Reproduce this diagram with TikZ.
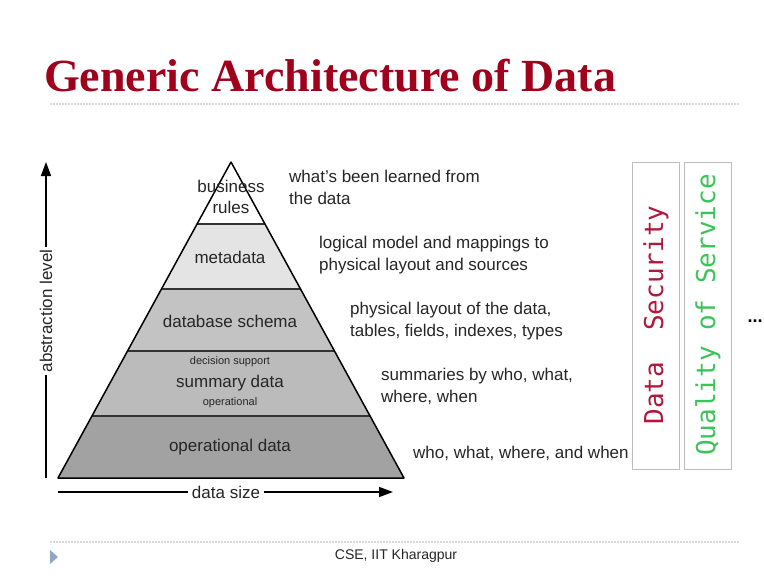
\documentclass[tikz,border=0pt]{standalone}
\usepackage{fontspec}
\setmainfont{Liberation Sans}
\newfontfamily\titlefont{Liberation Serif}
\newfontfamily\monofont{DejaVu Sans Mono}
\usetikzlibrary{calc,arrows.meta}
\definecolor{titlered}{HTML}{A0001C}
\definecolor{secred}{HTML}{B0183C}
\definecolor{qosgreen}{HTML}{3CC35A}
\definecolor{txtgray}{HTML}{262626}
\definecolor{lay1}{HTML}{FFFFFF}
\definecolor{lay2}{HTML}{E4E4E4}
\definecolor{lay3}{HTML}{C3C3C3}
\definecolor{lay4}{HTML}{BBBBBB}
\definecolor{lay5}{HTML}{A2A2A2}
\definecolor{boxgray}{HTML}{BDBDBD}
\definecolor{navblue}{HTML}{8FA6C4}
\tikzset{
  lbl/.style={text=txtgray,font=\fontsize{17}{19}\selectfont,inner sep=0pt},
  smalllbl/.style={text=txtgray,font=\fontsize{11}{13}\selectfont,inner sep=0pt},
  desc/.style={text=txtgray,font=\fontsize{17}{21.5}\selectfont,align=left,anchor=north west,inner sep=0pt},
  sep/.style={draw=black!80,line width=2.2pt},
  axis/.style={line width=1.4pt,-{Triangle[width=10pt,length=14pt]}},
  sidebox/.style={draw=boxgray,line width=0.9pt},
  sidetxt/.style={font=\monofont\fontsize{26}{28}\selectfont,rotate=90,inner sep=0pt},
  rule/.style={draw=black!15,line width=1.2pt,dash pattern=on 2pt off 1pt}
}
\begin{document}
\begin{tikzpicture}[x=1pt,y=-1pt]
\useasboundingbox (0,0) rectangle (764,578);
\fill[white] (0,0) rectangle (764,578);
% title
\node[anchor=base west,inner sep=0pt,text=titlered,font=\titlefont\bfseries\fontsize{46}{48}\selectfont] (title) at (44,92) {\scalebox{1.0}[1.0]{Generic Architecture of Data}};
\draw[rule] (50,104) -- (740,104);
\draw[rule] (50,542) -- (740,542);
% pyramid
\coordinate (A) at (231,162);
\coordinate (BL) at (58,478);
\coordinate (BR) at (404,478);
\coordinate (L1) at ($(A)!0.1962!(BL)$);
\coordinate (R1) at ($(A)!0.1962!(BR)$);
\coordinate (L2) at ($(A)!0.4019!(BL)$);
\coordinate (R2) at ($(A)!0.4019!(BR)$);
\coordinate (L3) at ($(A)!0.5981!(BL)$);
\coordinate (R3) at ($(A)!0.5981!(BR)$);
\coordinate (L4) at ($(A)!0.8038!(BL)$);
\coordinate (R4) at ($(A)!0.8038!(BR)$);
\fill[lay1] (A) -- (R1) -- (L1) -- cycle;
\fill[lay2] (L1) -- (R1) -- (R2) -- (L2) -- cycle;
\fill[lay3] (L2) -- (R2) -- (R3) -- (L3) -- cycle;
\fill[lay4] (L3) -- (R3) -- (R4) -- (L4) -- cycle;
\fill[lay5] (L4) -- (R4) -- (BR) -- (BL) -- cycle;
\draw[sep] (L1) -- (R1);
\draw[sep] (L2) -- (R2);
\draw[sep] (L3) -- (R3);
\draw[sep] (L4) -- (R4);
\draw[line width=1.5pt,line join=round] (A) -- (BR) -- (BL) -- cycle;
% layer labels
\node[lbl] (br1) at (231,186) {business};
\node[lbl] (br2) at (231,207) {rules};
\node[lbl] (meta) at (230,257) {metadata};
\node[lbl] (schema) at (230,321) {database schema};
\node[smalllbl] (ds) at (230,362) {decision support};
\node[lbl] (summ) at (230,383) {summary data};
\node[smalllbl] (op) at (230,403) {operational};
\node[lbl] (opd) at (230,447) {operational data};
% descriptions
\node[desc] (d1) at (289,170) {what's been learned from\\the data};
\node[desc] (d2) at (319,236) {logical model and mappings to\\physical layout and sources};
\node[desc] (d3) at (350,302) {physical layout of the data,\\tables, fields, indexes, types};
\node[desc] (d4) at (381,368) {summaries by who, what,\\where, when};
\node[desc] (d5) at (413,446) {who, what, where, and when};
% axes
\coordinate (va0) at (46,478);
\coordinate (va1) at (46,162);
\draw[axis] (va0) -- (va1);
\node[lbl,fill=white,inner sep=3pt,rotate=90] (abs) at (46,311) {abstraction level};
\coordinate (ha0) at (58,492);
\coordinate (ha1) at (393,492);
\draw[axis] (ha0) -- (ha1);
\node[lbl,fill=white,inner sep=4pt] (dsz) at (226,492) {data size};
% side boxes
\draw[sidebox] (632,162) rectangle (679,469);
\draw[sidebox] (684,162) rectangle (731,469);
\node[sidetxt,text=secred] (sec) at (656,315) {Data\ \ Security};
\node[sidetxt,text=qosgreen] (qos) at (708,315) {Quality of Service};
\node[inner sep=0pt,font=\fontsize{18}{18}\selectfont\bfseries] (dots) at (755,321) {...};
% footer
\node[inner sep=0pt,text=txtgray,font=\fontsize{14}{16}\selectfont] (foot) at (396,556) {CSE, IIT Kharagpur};
\fill[navblue] (50,550) -- (58,557) -- (50,564) -- cycle;
\end{tikzpicture}
\end{document}
